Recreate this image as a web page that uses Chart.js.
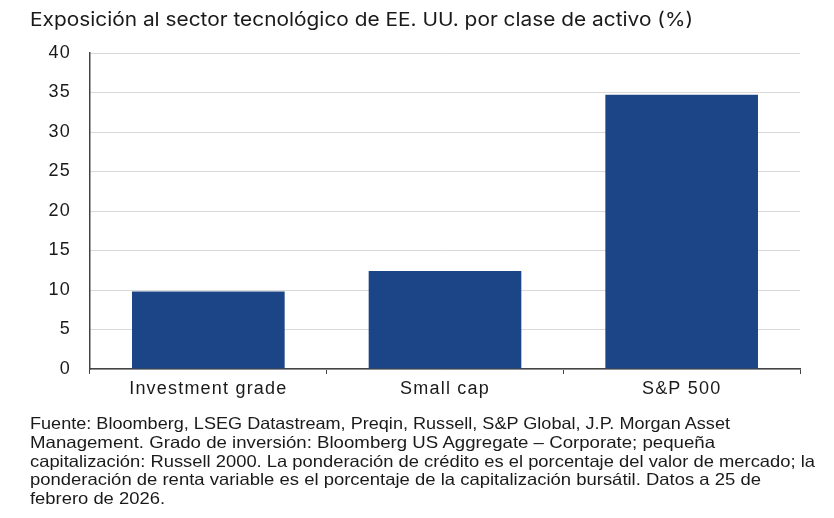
<!DOCTYPE html>
<html><head><meta charset="utf-8">
<script src="https://cdn.jsdelivr.net/npm/chart.js@4"></script>
<style>
html,body{margin:0;padding:0;background:#fff;width:834px;height:518px;overflow:hidden;}
#wrap{position:relative;width:834px;height:518px;}
canvas{position:absolute;left:0;top:0;}
.t{position:absolute;left:30px;white-space:nowrap;color:#1a1a1a;transform-origin:0 0;}
#title{top:8px;font:19px Inter, "Open Sans", sans-serif;}
.f{font:16.5px "Liberation Sans", Arial, sans-serif;line-height:19px;}
</style></head><body>
<div id="wrap">
<canvas id="c" width="834" height="518"></canvas>
<div id="title" class="t" data-w="663">Exposición al sector tecnológico de EE. UU. por clase de activo (%)</div>
<div class="t f" style="top:414px" data-w="700">Fuente: Bloomberg, LSEG Datastream, Preqin, Russell, S&amp;P Global, J.P. Morgan Asset</div>
<div class="t f" style="top:432.75px" data-w="685">Management. Grado de inversión: Bloomberg US Aggregate – Corporate; pequeña</div>
<div class="t f" style="top:451.5px" data-w="785">capitalización: Russell 2000. La ponderación de crédito es el porcentaje del valor de mercado; la</div>
<div class="t f" style="top:470.25px" data-w="731">ponderación de renta variable es el porcentaje de la capitalización bursátil. Datos a 25 de</div>
<div class="t f" style="top:489px" data-w="135">febrero de 2026.</div>
</div>
<script>
const categories = ["Investment grade", "Small cap", "S&P 500"];
const exposure = [9.8, 12.4, 34.7];
const yMin = 0, yMax = 40, yStep = 5;

document.querySelectorAll('.t').forEach(el => {
  const w = el.getBoundingClientRect().width;
  const target = +el.dataset.w;
  el.style.transform = 'scaleX(' + (target / w) + ')';
});

const spacing = {
  id: 'spacing',
  beforeLayout(chart) { chart.ctx.letterSpacing = '1.2px'; },
  beforeDraw(chart) { chart.ctx.letterSpacing = '1.2px'; }
};

new Chart(document.getElementById('c'), {
  type: 'bar',
  plugins: [spacing],
  data: {
    labels: categories,
    datasets: [{
      data: exposure,
      backgroundColor: '#1c4587',
      borderWidth: 0,
      categoryPercentage: 1,
      barPercentage: 0.645
    }]
  },
  options: {
    responsive: false,
    animation: false,
    devicePixelRatio: 1,
    layout: { padding: { left: 0, right: 34, top: 53, bottom: 0 } },
    plugins: { legend: { display: false }, tooltip: { enabled: false }, title: { display: false } },
    scales: {
      x: {
        offset: true,
        grid: { display: true, drawOnChartArea: false, drawTicks: true, tickLength: 5, color: '#444', offset: true },
        border: { display: true, color: '#444', width: 1.5 },
        ticks: { color: '#1a1a1a', font: { family: 'Liberation Sans', size: 18 }, padding: 4 },
        afterFit: s => { s.height = 149; }
      },
      y: {
        min: yMin, max: yMax,
        grid: { color: '#d9d9d9', drawTicks: false, lineWidth: 1 },
        border: { display: true, color: '#444', width: 1.5 },
        ticks: { stepSize: yStep, color: '#1a1a1a', font: { family: 'Liberation Sans', size: 18 }, padding: 19 },
        afterFit: s => { s.width = 90; }
      }
    }
  }
});
</script>
</body></html>
